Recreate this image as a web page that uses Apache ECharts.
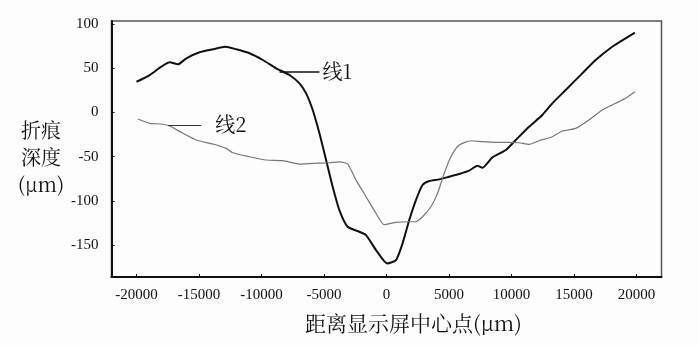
<!DOCTYPE html>
<html><head><meta charset="utf-8">
<script src="https://cdn.jsdelivr.net/npm/echarts@6/dist/echarts.min.js"></script>
<style>html,body{margin:0;padding:0;background:#fdfdfd}#c{width:699px;height:345px}</style>
</head><body><div id="c"></div>
<script>
// Line 1 (black)
const line1X = [-20000,-18945,-18011,-17348,-16685,-16014,-14952,-13889,-12875,-12020,-10958,-9896,-8826,-7763,-6965,-6430,-5902,-5367,-4832,-4305,-3770,-3107,-2172,-1637,-839,64,759,1286,1821,2356,2883,3418,4217,5016,5815,6613,7276,7676,8474,9545,10343,11405,12468,13266,14337,15662,16733,18059,19129,19872];
const line1Y = [34.8,42.4,51.8,56.8,54.5,61.3,68.1,71.5,74.4,71.5,67,59.4,50,42.4,33,21.7,2.8,-23.5,-53.7,-83.9,-110.3,-129.2,-134.8,-138.6,-155.5,-170.6,-166.9,-148,-121.6,-99,-82,-77.5,-75.6,-72.6,-69.6,-65.8,-60.2,-62.4,-50.7,-42.4,-31.1,-16.1,-2.8,10.4,25.5,44.3,59.4,74.4,83.9,90.3];
// Line 2 (grey)
const line2X = [-19880,-18945,-18011,-17348,-16285,-15215,-13889,-12819,-12292,-10958,-9624,-8298,-6965,-5902,-4569,-3770,-3107,-2436,-1637,-839,-176,759,1821,2356,2883,3554,4081,4617,5152,5815,6749,7676,8746,9808,10607,11405,12204,13266,14065,15136,16198,17260,18330,19129,19872];
const line2Y = [-7.4,-12.2,-13,-15.3,-23.5,-31.1,-35.6,-40.5,-45.5,-50,-53.7,-54.5,-58.3,-57.5,-56.8,-55.7,-58.3,-76.4,-95.2,-114,-126.9,-124.2,-123.5,-123.5,-117.9,-106.6,-91.4,-68.8,-50,-36.8,-31.9,-33,-33.7,-33.7,-34.2,-36,-31.9,-27.4,-20.9,-17.9,-8.5,2.8,10.4,16.1,23.5];
const xTicks = [-20000,-15000,-10000,-5000,0,5000,10000,15000,20000];
const yTicks = [-150,-100,-50,0,50,100];
const seriesNames = ['线1','线2'];
const xTitle = '距离显示屏中心点(μm)';
const yTitle = '折痕\n深度\n(μm)';

const zip = (xs, ys) => xs.map((x, i) => [x, ys[i]]);
const chart = echarts.init(document.getElementById('c'), null, {renderer: 'canvas'});
const serif = 'Liberation Serif';
const cjk = '"Noto Serif CJK SC","Noto Sans CJK SC",serif';
chart.setOption({
  backgroundColor: '#fdfdfd',
  animation: false,
  grid: {left: 111.5, right: 37.5, top: 21, bottom: 68, show: true, borderColor: '#555', borderWidth: 1.5, backgroundColor: 'transparent'},
  xAxis: {
    type: 'value', min: -22000, max: 22000,
    axisLine: {show: true, onZero: false, lineStyle: {color: '#111', width: 2}},
    axisTick: {show: true, inside: true, length: 3, customValues: xTicks, lineStyle: {color: '#111'}},
    axisLabel: {customValues: xTicks, margin: 11, color: '#111', fontSize: 15, fontFamily: serif, formatter: v => String(v)},
    splitLine: {show: false}
  },
  yAxis: {
    type: 'value', min: -186, max: 103.5,
    axisLine: {show: true, onZero: false, lineStyle: {color: '#111', width: 2}},
    axisTick: {show: true, inside: true, length: 3, customValues: yTicks, lineStyle: {color: '#111'}},
    axisLabel: {customValues: yTicks, margin: 13, color: '#111', fontSize: 15, fontFamily: serif, formatter: v => String(v)},
    splitLine: {show: false}
  },
  graphic: [
    {type: 'text', left: 305, top: 313, style: {text: xTitle, font: '21px ' + cjk, fill: '#111'}},
    {type: 'text', x: 41, y: 117, style: {text: yTitle, font: '20px ' + cjk, fill: '#111', align: 'center', lineHeight: 27}}
  ],
  series: [
    {
      name: seriesNames[0], type: 'line', data: zip(line1X, line1Y), showSymbol: false, smooth: 0.2,
      lineStyle: {color: '#111', width: 2},
      markLine: {
        silent: true, symbol: ['none', 'none'], animation: false,
        lineStyle: {color: '#111', width: 1.5, type: 'solid'},
        label: {show: true, position: 'end', formatter: seriesNames[0], color: '#111', fontSize: 20, fontFamily: cjk, distance: 3},
        data: [[{coord: [-8560, 46.5]}, {coord: [-5370, 46.5]}]]
      }
    },
    {
      name: seriesNames[1], type: 'line', data: zip(line2X, line2Y), showSymbol: false, smooth: 0.2,
      lineStyle: {color: '#777', width: 1.2},
      markLine: {
        silent: true, symbol: ['none', 'none'], animation: false,
        lineStyle: {color: '#333', width: 1.2, type: 'solid'},
        label: {show: true, position: 'end', formatter: seriesNames[1], color: '#111', fontSize: 20, fontFamily: cjk, distance: 14},
        data: [[{coord: [-17480, -14]}, {coord: [-14820, -14]}]]
      }
    }
  ]
});
</script></body></html>
